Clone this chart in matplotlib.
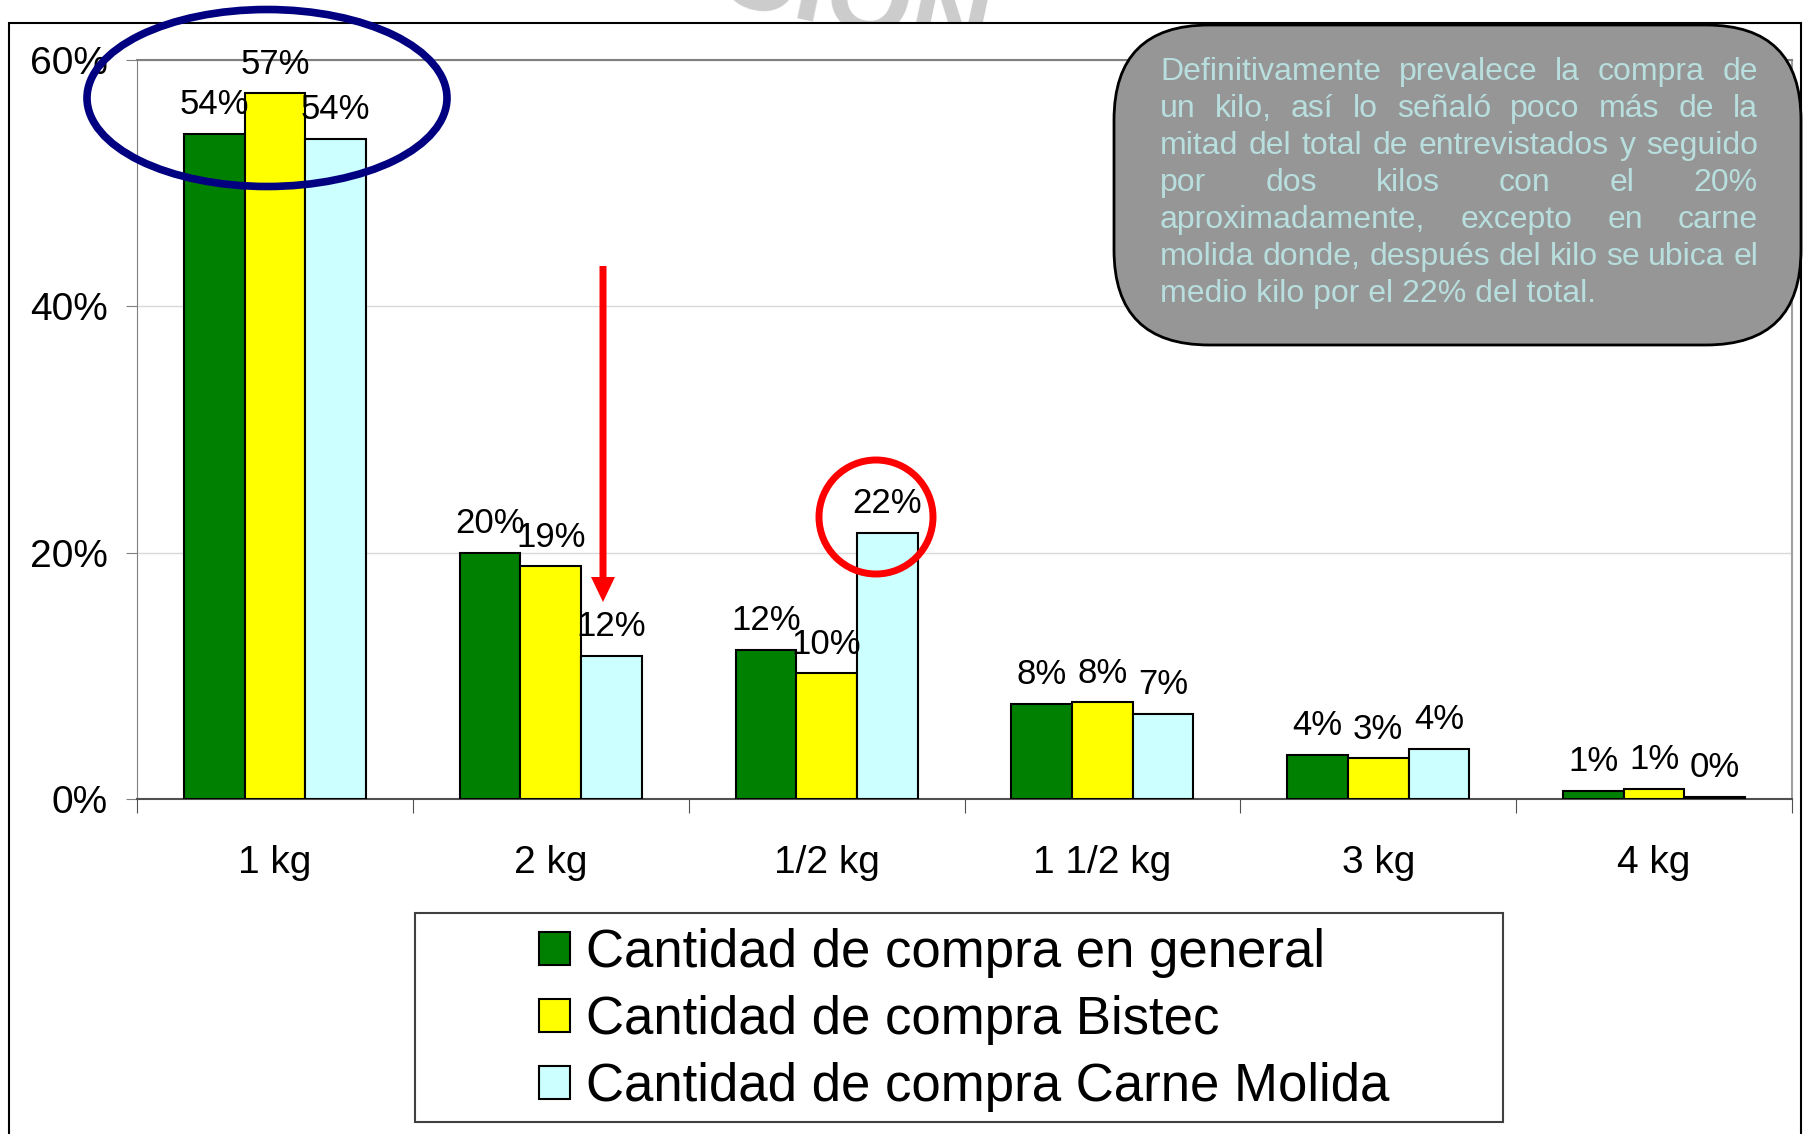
import matplotlib
matplotlib.use('Agg')
import matplotlib.pyplot as plt
from matplotlib.patches import Rectangle, Ellipse, FancyBboxPatch, FancyArrow
from matplotlib.ticker import PercentFormatter, FixedLocator
import numpy as np

plt.rcParams['font.family'] = ['Liberation Sans', 'DejaVu Sans']

# datos (%)
categorias = ['1 kg', '2 kg', '1/2 kg', '1 1/2 kg', '3 kg', '4 kg']
general = [54.0, 20.0, 12.1, 7.7, 3.6, 0.65]
bistec = [57.3, 18.9, 10.2, 7.85, 3.3, 0.84]
molida = [53.6, 11.6, 21.6, 6.9, 4.1, 0.2]
series = ['Cantidad de compra en general', 'Cantidad de compra Bistec',
          'Cantidad de compra Carne Molida']
colores = ['#008000', '#ffff00', '#ccffff']

nota = ["Definitivamente prevalece la compra de",
        "un kilo, así lo señaló poco más de la",
        "mitad del total de entrevistados y seguido",
        "por dos kilos con el 20%",
        "aproximadamente, excepto en carne",
        "molida donde, después del kilo se ubica el",
        "medio kilo por el 22% del total."]

W, H = 1805, 1134
fig = plt.figure(figsize=(W / 100, H / 100), dpi=100)

# marca de agua que asoma por encima del marco
fig.text(1000 / W, 1 - 2 / H, 'CION', fontsize=80, color='#cccccc',
         fontweight='bold', rotation=-12, ha='right', va='center', zorder=-2)
# marco blanco del grafico
fig.patches.append(Rectangle((9 / W, -0.02), (1801 - 9) / W, 0.02 + 1 - 23 / H,
                             transform=fig.transFigure, facecolor='white',
                             edgecolor='black', lw=1.5, zorder=-1))

ax = fig.add_axes([137 / W, 1 - 799 / H, (1792 - 137) / W, (799 - 60) / H])
x = np.arange(len(categorias)) + 0.5
ancho = 0.22
for j, (vals, col, nom) in enumerate(zip([general, bistec, molida], colores, series)):
    xs = x + (j - 1) * ancho
    ax.bar(xs, vals, width=ancho, color=col, edgecolor='black', lw=1.5,
           label=nom, zorder=3)
    for xi, v in zip(xs, vals):
        ax.annotate(f'{v:.0f}%', (xi, v), xytext=(0, 21), textcoords='offset points',
                    ha='center', va='center', fontsize=25, zorder=4)

ax.set_xlim(0, len(categorias))
ax.set_ylim(0, 60)
ax.yaxis.set_major_locator(FixedLocator([0, 20, 40, 60]))
ax.yaxis.set_major_formatter(PercentFormatter(decimals=0))
ax.grid(axis='y', color='#d9d9d9', lw=1, zorder=0)
ax.tick_params(axis='y', labelsize=28, length=8, color='#808080', pad=13)
ax.set_xticks(np.arange(len(categorias) + 1))
ax.set_xticklabels([])
ax.set_xticks(x, minor=True)
ax.set_xticklabels(categorias, minor=True)
ax.tick_params(axis='x', which='major', length=10, color='#505050', direction='out')
ax.tick_params(axis='x', which='minor', length=0, labelsize=28, pad=33)
ax.spines['left'].set_color('#808080')
ax.spines['top'].set_color('#808080')
ax.spines['top'].set_lw(1.5)
ax.spines['right'].set_color('#a0a0a0')
ax.spines['right'].set_lw(1.5)
ax.spines['bottom'].set_color('#505050')
ax.spines['bottom'].set_lw(1.5)

# capa superior en pixeles para las anotaciones
ov = fig.add_axes([0, 0, 1, 1], zorder=3)
ov.set_xlim(0, W)
ov.set_ylim(H, 0)
ov.axis('off')

ov.add_patch(Ellipse((267, 98), 360, 177, fill=False, ec='#000080', lw=5.5))
ov.add_patch(Ellipse((876, 517), 114, 114, fill=False, ec='red', lw=5))
ov.add_patch(FancyArrow(603, 266, 0, 336, width=7, head_width=24, head_length=25,
                        length_includes_head=True, color='red', lw=0))

ov.add_patch(FancyBboxPatch((1114, 25), 687, 320,
                            boxstyle='round,pad=0,rounding_size=95',
                            fc='#969696', ec='black', lw=2))
renderer = fig.canvas.get_renderer()
fs_nota = 23
col_nota = '#b8dede'
x0, x1 = 1160, 1758


def ancho_txt(s):
    t = ov.text(0, 0, s, fontsize=fs_nota)
    w = t.get_window_extent(renderer).width
    t.remove()
    return w


for i, linea in enumerate(nota):
    yb = 80 + i * 37
    if i == len(nota) - 1:
        ov.text(x0, yb, linea, fontsize=fs_nota, color=col_nota, va='baseline')
        continue
    palabras = linea.split()
    anchos = [ancho_txt(p) for p in palabras]
    hueco = (x1 - x0 - sum(anchos)) / (len(palabras) - 1)
    xp = x0
    for p, w in zip(palabras, anchos):
        ov.text(xp, yb, p, fontsize=fs_nota, color=col_nota, va='baseline')
        xp += w + hueco

# leyenda
ov.add_patch(Rectangle((415, 913), 1088, 209, fc='white', ec='#404040', lw=1.5))
handles, labels = ax.get_legend_handles_labels()
leg = fig.legend(handles, labels, loc='center', bbox_to_anchor=(964 / W, 1 - 1020 / H),
                 frameon=False, fontsize=38, handlelength=0.6, handleheight=0.6,
                 handletextpad=0.3, labelspacing=0.32)
leg.set_zorder(6)

fig.savefig('out.png', dpi=100)
